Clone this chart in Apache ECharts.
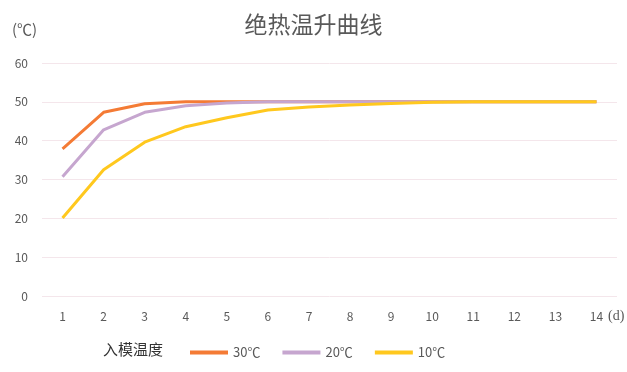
<!DOCTYPE html>
<html>
<head>
<meta charset="utf-8">
<script src="https://cdn.jsdelivr.net/npm/echarts@6/dist/echarts.min.js"></script>
<style>
  html, body { margin: 0; padding: 0; background: #fff; }
  #main { width: 627px; height: 372px; }
</style>
</head>
<body>
<div id="main"></div>
<script>
// 龄期 (d)
var days = ["1", "2", "3", "4", "5", "6", "7", "8", "9", "10", "11", "12", "13", "14"];
// 入模温度 30℃ / 20℃ / 10℃
var temp30 = [37.9, 47.3, 49.5, 50, 50, 50, 50, 50, 50, 50, 50, 50, 50, 50];
var temp20 = [30.7, 42.8, 47.3, 49, 49.7, 50, 50, 50, 50, 50, 50, 50, 50, 50];
var temp10 = [20.1, 32.5, 39.6, 43.6, 45.9, 47.9, 48.7, 49.2, 49.6, 49.9, 50, 50, 50, 50];
var seriesNames = ["30℃", "20℃", "10℃"];
var yTicks = [0, 60, 10]; // min, max, interval

var font = "'Noto Sans CJK SC', 'Noto Sans', sans-serif";
var grey = "#595959";

var chartDom = document.getElementById("main");
var myChart = echarts.init(chartDom);

function line(name, data, color) {
  return {
    name: name,
    type: "line",
    data: data,
    symbol: "none",
    smooth: false,
    lineStyle: { color: color, width: 3 },
    itemStyle: { color: color },
  };
}

var options = {
  animation: false,
  title: {
    text: "绝热温升曲线",
    left: "center",
    top: 8,
    textStyle: { fontFamily: font, fontSize: 23, fontWeight: "normal", color: grey },
  },
  grid: { left: 42, right: 10, top: 63, bottom: 76 },
  legend: {
    left: 185,
    bottom: 8,
    itemWidth: 38,
    itemHeight: 4,
    itemGap: 22,
    icon: "rect",
    data: seriesNames,
    textStyle: { fontFamily: font, fontSize: 13, color: grey },
  },
  graphic: [
    { type: "text", left: 12, top: 22, style: { text: "(℃)", font: "15px " + font, fill: grey } },
    { type: "text", left: 608, top: 309, style: { text: "(d)", font: "14px 'Liberation Serif', serif", fill: grey } },
    { type: "text", left: 103, top: 342, style: { text: "入模温度", font: "15px " + font, fill: "#333" } },
  ],
  xAxis: {
    type: "category",
    data: days,
    boundaryGap: true,
    axisLine: { show: false },
    axisTick: { show: false },
    axisLabel: { color: grey, fontFamily: font, fontSize: 12, margin: 14 },
  },
  yAxis: {
    type: "value",
    min: yTicks[0],
    max: yTicks[1],
    interval: yTicks[2],
    axisLabel: { color: grey, fontFamily: font, fontSize: 12, margin: 14 },
    splitLine: { lineStyle: { color: "#F4E6EB", width: 1 } },
  },
  series: [
    line(seriesNames[0], temp30, "#F47B35"),
    line(seriesNames[1], temp20, "#C6A6CF"),
    line(seriesNames[2], temp10, "#FFC81E"),
  ],
};

options && myChart.setOption(options);
</script>
</body>
</html>
